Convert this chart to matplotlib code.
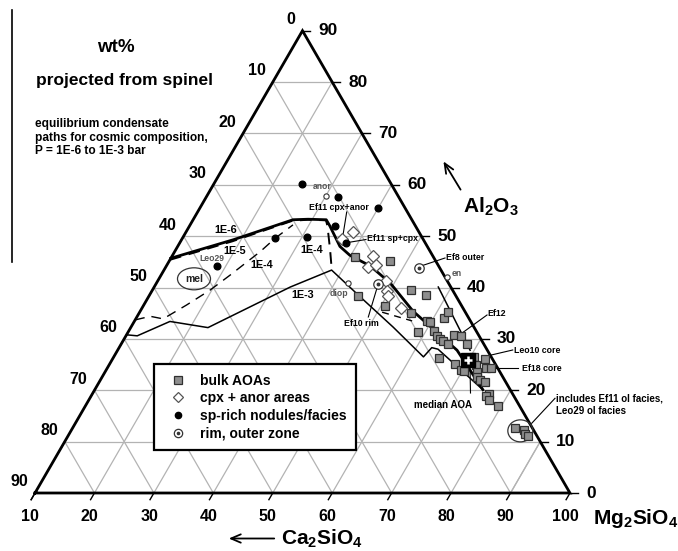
import numpy as np
import matplotlib
matplotlib.use("Agg")
import matplotlib.pyplot as plt
from matplotlib.patches import Ellipse
from matplotlib.lines import Line2D

plt.rcParams['font.family'] = ['Liberation Sans', 'DejaVu Sans']
plt.rcParams['mathtext.fontset'] = 'custom'
plt.rcParams['mathtext.rm'] = 'Liberation Sans'
plt.rcParams['mathtext.bf'] = 'Liberation Sans:bold'

# ---------------- data (wt%): Mg2SiO4 and Al2O3; Ca2SiO4 = 100 - both ----------------
bulk_mg = [40.9, 47.2, 45.2, 53.4, 56.6, 50.6, 55.8, 59.2, 59.9, 58.8, 61.3, 62.3, 63.1, 63.9,
           65.0, 61.8, 61.8, 65.1, 66.4, 68.1, 64.9, 68.1, 69.6, 70.2, 70.6, 71.7, 72.6, 73.8,
           74.5, 72.5, 73.1, 73.8, 74.9, 76.7, 76.5, 77.3, 79.5, 84.4, 86.1, 86.7, 87.4]
bulk_al = [45.9, 45.2, 38.4, 39.6, 38.5, 36.4, 35.0, 33.5, 33.2, 31.3, 31.6, 30.6, 30.0, 29.5,
           29.1, 34.0, 35.2, 30.7, 30.6, 29.1, 26.3, 25.2, 24.0, 23.8, 26.5, 24.9, 26.1, 24.3,
           24.3, 23.6, 22.6, 22.0, 21.7, 19.2, 18.8, 18.1, 16.9, 12.7, 12.2, 11.5, 11.1]

cpx_mg = [38.1, 36.9, 43.8, 44.0, 45.2, 48.5, 49.5, 50.2, 53.6]
cpx_al = [50.9, 49.4, 46.1, 44.0, 44.4, 41.2, 39.4, 38.4, 36.1]

sp_mg = [24.8, 32.2, 40.0, 34.5, 38.0, 25.6, 30.9, 18.6]
sp_al = [60.1, 57.7, 55.4, 52.0, 48.7, 49.7, 49.8, 44.1]

rim_mg = [52.7, 47.3]
rim_al = [43.9, 40.7]

median_mg = [69.9]
median_al = [25.8]

ref_names = ['anor', 'en', 'diop']
ref_mg = [30.0, 58.2, 42.3]
ref_al = [57.9, 42.1, 40.8]

# condensation paths
p1e6_mg = [10.0, 18.7, 26.8, 29.3, 32.4, 33.6, 37.3, 39.8, 44.3, 49.3, 55.9, 67.1, 75.3]
p1e6_al = [45.7, 49.3, 53.2, 53.3, 53.2, 52.0, 48.0, 46.3, 44.2, 40.9, 35.4, 27.8, 20.1]
p1e5_mg = [10.0, 18.7, 26.8, 29.3, 32.4, 33.2, 36.0, 38.0]
p1e5_al = [45.4, 49.0, 53.0, 53.2, 53.1, 52.0, 47.3, 43.8]
p1e4_mg = [10.0, 12.2, 14.6, 17.2, 19.7, 21.6, 24.4, 25.6, 27.3]
p1e4_al = [33.7, 34.4, 33.9, 36.6, 39.5, 42.4, 47.0, 49.6, 52.2]
p1e4b_mg = [50.8, 56.7]
p1e4b_al = [35.2, 33.5]
p1e3_mg = [10.0, 11.9, 16.0, 23.0, 32.9, 38.2, 45.6, 54.1, 62.1, 62.6, 63.8, 75.3]
p1e3_al = [30.8, 30.6, 33.4, 32.2, 40.1, 43.4, 38.2, 32.3, 26.5, 28.3, 28.0, 20.1]
side_mg = [57.8, 69.3]
side_al = [40.1, 27.8]

grid_vals = [10, 20, 30, 40, 50, 60, 70, 80]
bottom_ticks = [10, 20, 30, 40, 50, 60, 70, 80, 90, 100]   # Mg2SiO4
left_ticks = [0, 10, 20, 30, 40, 50, 60, 70, 80, 90]       # Ca2SiO4
right_ticks = [90, 80, 70, 60, 50, 40, 30, 20, 10, 0]      # Al2O3

S3 = np.sqrt(3) / 2


def T(mg, al):
    mg = np.asarray(mg, float)
    al = np.asarray(al, float)
    return mg + al / 2, al * S3


def P(x, y):
    """pixel position -> data coords (layout helper for labels)"""
    return 10 + (x - 35) / 5.944, (493 - y) / 5.931


fig = plt.figure(figsize=(6.78, 5.51), dpi=100)
ax = fig.add_axes([0, 0, 1, 1])
ax.set_xlim(P(0, 0)[0], P(678, 0)[0])
ax.set_ylim(P(0, 551)[1], P(0, 0)[1])
ax.axis('off')

gcol = '#b3b3b3'
# grid lines
for a in grid_vals:
    x, y = T([10, 100 - a], [a, a])
    ax.plot(x, y, color=gcol, lw=0.9, zorder=1)
for m in grid_vals + [90]:
    if m == 90:
        x, y = T([90, 90], [0, 10])
    else:
        x, y = T([m + 10, m + 10], [0, 90 - m])
    ax.plot(x, y, color=gcol, lw=0.9, zorder=1)
for c in grid_vals:
    x, y = T([100 - c, 10], [0, 90 - c])
    ax.plot(x, y, color=gcol, lw=0.9, zorder=1)

# triangle frame
x, y = T([10, 100, 10, 10], [0, 0, 90, 0])
ax.plot(x, y, color='black', lw=2.0, zorder=3, solid_joinstyle='miter')

tl = 1.3  # tick length (data units)
# right (Al2O3) ticks & labels
for a in right_ticks:
    x0, y0 = T(100 - a, a)
    ax.plot([x0, x0 + tl], [y0, y0], color='black', lw=1.0, zorder=3)
    ax.annotate(str(a), (x0, y0), xytext=(11.5, 0), textcoords='offset points',
                ha='left', va='center', fontsize=12.5, fontweight='bold')
# bottom (Mg2SiO4) ticks & labels
for m in bottom_ticks:
    x0, y0 = T(m, 0)
    ax.plot([x0, x0 - 0.5 * tl], [y0, y0 - S3 * tl], color='black', lw=1.0, zorder=3)
    ax.annotate(str(m), (x0, y0), xytext=(-3.5, -16.6), textcoords='offset points',
                ha='center', va='center', fontsize=11.5, fontweight='bold')
# left (Ca2SiO4) ticks & labels
for c in left_ticks:
    x0, y0 = T(10, 90 - c)
    ax.plot([x0, x0 - 0.5 * tl], [y0, y0 - S3 * tl], color='black', lw=1.0, zorder=3)
    ax.annotate(str(c), (x0, y0), xytext=(-5, 8), textcoords='offset points',
                ha='right', va='center', fontsize=11.5, fontweight='bold')

# condensation paths
ax.plot(*T(p1e6_mg, p1e6_al), color='black', lw=2.0, zorder=4)
ax.plot(*T(p1e5_mg, p1e5_al), color='black', lw=1.4, ls=(0, (6, 4)), zorder=4)
ax.plot(*T(p1e4_mg, p1e4_al), color='black', lw=1.0, ls=(0, (7, 5)), zorder=4)
ax.plot(*T(p1e4b_mg, p1e4b_al), color='black', lw=1.0, ls=(0, (5, 4)), zorder=4)
ax.plot(*T(p1e3_mg, p1e3_al), color='black', lw=1.1, zorder=4)
ax.plot(*T(side_mg, side_al), color='black', lw=1.1, zorder=4)

# data symbols
ax.plot(*T(bulk_mg, bulk_al), 's', ms=6.3, mfc='#8e8e8e', mec='#303030', mew=0.9, ls='none', zorder=6)
ax.plot(*T(cpx_mg, cpx_al), 'D', ms=6.0, mfc='white', mec='#555555', mew=0.9, ls='none', zorder=6)
ax.plot(*T(sp_mg, sp_al), 'o', ms=4.8, color='black', ls='none', zorder=6)
ax.plot(*T(rim_mg, rim_al), 'o', ms=6.8, mfc='white', mec='#333333', mew=0.9, ls='none', zorder=6)
ax.plot(*T(rim_mg, rim_al), 'o', ms=1.8, color='#333333', ls='none', zorder=7)
ax.plot(*T(ref_mg, ref_al), 'o', ms=3.8, mfc='white', mec='#333333', mew=0.8, ls='none', zorder=6)
ax.plot(*T(median_mg, median_al), 's', ms=9.5, color='black', ls='none', zorder=8)
ax.plot(*T(median_mg, median_al), '+', ms=6, mec='white', mew=1.8, ls='none', zorder=9)

# ellipses
cx, cy = T(15.9, 41.7)
ax.add_patch(Ellipse((cx, cy), 33 / 5.944, 22 / 5.931, fill=False, ec='#333333', lw=0.9, zorder=5))
ax.text(cx, cy, 'mel', ha='center', va='center', fontsize=7.5, fontweight='bold', color='#222222')
cx, cy = T(85.6, 12.1)
ax.add_patch(Ellipse((cx, cy), 25 / 5.944, 22 / 5.931, fill=False, ec='#333333', lw=0.9, zorder=5))

# small labels
small = dict(fontsize=6.2, color='#555555', fontweight='bold', va='center', ha='left')
ax.text(*P(312.5, 186.5), 'anor', **small)
ax.text(*P(451.5, 274), 'en', **small)
ax.text(*P(330, 293.5), 'diop', **small)
ax.text(*P(199, 258.5), 'Leo29', **small)

pl = dict(fontsize=7.8, fontweight='bold', ha='center', va='center')
ax.text(*P(226, 230), '1E-6', **pl)
ax.text(*P(235, 251.5), '1E-5', **pl)
ax.text(*P(262, 265.5), '1E-4', **pl)
ax.text(*P(312, 250), '1E-4', **pl)
ax.text(*P(303, 294.5), '1E-3', **pl)

ann = dict(fontsize=6.3, fontweight='bold', va='center')
leaders = [((346.7, 212), (342.7, 237)), ((346.7, 242.7), (366, 239.5)), ((421, 266), (445, 258)),
           ((377.3, 287), (368.3, 317)), ((461.7, 333.3), (487, 315)), ((487, 356), (512.7, 350)),
           ((492, 368.3), (518.3, 368.3)), ((470, 366.7), (470.5, 393)), ((531.7, 423.3), (555, 398.3))]
for (a, b) in leaders:
    pa, pb = P(*a), P(*b)
    ax.plot([pa[0], pb[0]], [pa[1], pb[1]], color='black', lw=0.8, zorder=5)
ax.text(*P(338.5, 207.5), 'Ef11 cpx+anor', ha='center', **ann)
ax.text(*P(367, 238.5), 'Ef11 sp+cpx', ha='left', **ann)
ax.text(*P(446.5, 257.3), 'Ef8 outer', ha='left', **ann)
ax.text(*P(361.7, 323.5), 'Ef10 rim', ha='center', **ann)
ax.text(*P(487.5, 314), 'Ef12', ha='left', **ann)
ax.text(*P(513.5, 350.7), 'Leo10 core', ha='left', **ann)
ax.text(*P(521.5, 368.3), 'Ef18 core', ha='left', **ann)
ax.text(*P(442.5, 405), 'median AOA', ha='center', fontsize=7.0, fontweight='bold', va='center')
ax.text(*P(556.5, 398.7), 'includes Ef11 ol facies,', ha='left', fontsize=7, fontweight='bold', va='center')
ax.text(*P(556.5, 410.5), 'Leo29 ol facies', ha='left', fontsize=7, fontweight='bold', va='center')

# titles
ax.text(*P(116, 47), 'wt%', ha='center', va='center', fontsize=13.5, fontweight='bold')
ax.text(*P(124, 80), 'projected from spinel', ha='center', va='center', fontsize=12.5, fontweight='bold')
for i, s in enumerate(['equilibrium condensate', 'paths for cosmic composition,',
                       'P = 1E-6 to 1E-3 bar']):
    ax.text(*P(35, 124.5 + 13 * i), s, ha='left', va='center', fontsize=8.6, fontweight='bold')

# component labels and arrows
ax.text(*P(491, 207), r'$\mathbf{Al_2O_3}$', ha='center', va='center', fontsize=15)
ax.annotate('', xy=P(442, 159), xytext=P(462, 192),
            arrowprops=dict(arrowstyle='->,head_length=0.7,head_width=0.3', lw=1.3, color='black'))
ax.text(*P(636, 518), r'$\mathbf{Mg_2SiO_4}$', ha='center', va='center', fontsize=15)
ax.text(*P(322, 539), r'$\mathbf{Ca_2SiO_4}$', ha='center', va='center', fontsize=15)
ax.annotate('', xy=P(226, 538.5), xytext=P(277, 538.5),
            arrowprops=dict(arrowstyle='->,head_length=0.7,head_width=0.3', lw=1.3, color='black'))

# left margin line
fig.add_artist(Line2D([12 / 678, 12 / 678], [1 - 10 / 551, 1 - 262 / 551], color='black', lw=1.2))

# legend
h1 = Line2D([], [], marker='s', ms=5.5, mfc='#8e8e8e', mec='#303030', mew=0.9, ls='none')
h2 = Line2D([], [], marker='D', ms=5, mfc='white', mec='#555555', mew=0.9, ls='none')
h3 = Line2D([], [], marker='o', ms=4.5, color='black', ls='none')
h4a = Line2D([], [], marker='o', ms=6, mfc='white', mec='#333333', mew=0.9, ls='none')
h4b = Line2D([], [], marker='o', ms=1.6, color='#333333', ls='none')
leg = ax.legend([h1, h2, h3, (h4a, h4b)],
                ['bulk AOAs', 'cpx + anor areas', 'sp-rich nodules/facies', 'rim, outer zone'],
                loc='upper left', bbox_to_anchor=(154 / 678, 1 - 364 / 551), bbox_transform=fig.transFigure,
                prop={'weight': 'bold', 'size': 10}, frameon=True, fancybox=False, edgecolor='black',
                framealpha=1, borderpad=0.7, labelspacing=0.26, handlelength=2.06, handletextpad=0.55,
                borderaxespad=0)
leg.get_frame().set_linewidth(1.6)
leg.set_zorder(10)

fig.savefig('out.png', dpi=100, facecolor='white')
